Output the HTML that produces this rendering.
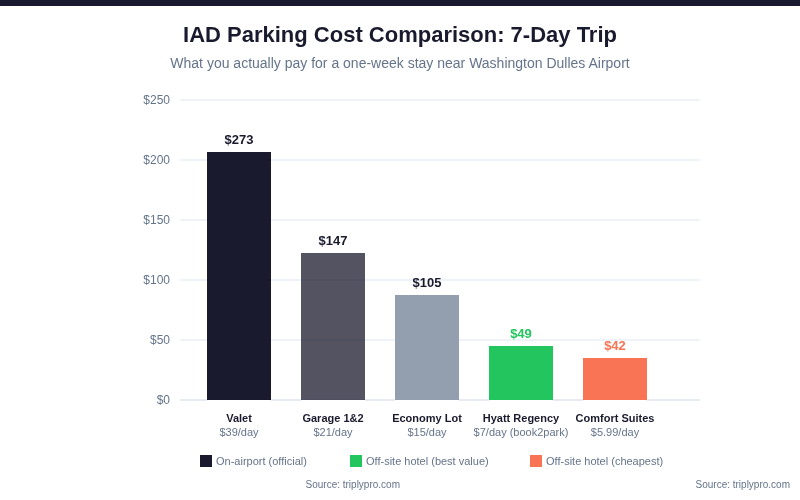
<!DOCTYPE html>
<html><head><meta charset="utf-8"><title>IAD Parking Cost Comparison</title>
<style>
html,body{margin:0;padding:0;background:#fff;}
svg{display:block;font-family:"Liberation Sans",Arial,sans-serif;}
</style></head><body>
<svg width="800" height="500" viewBox="0 0 800 500">
<rect x="0" y="0" width="800" height="500" fill="#ffffff"/>
<rect x="0" y="0" width="800" height="6" fill="#1a1a2e"/>
<text x="400" y="42" text-anchor="middle" font-size="22" font-weight="700" fill="#1a1a2e">IAD Parking Cost Comparison: 7-Day Trip</text>
<text x="400" y="68" text-anchor="middle" font-size="14" fill="#64748b">What you actually pay for a one-week stay near Washington Dulles Airport</text>
<g fill="#eff2f8">
<rect x="180" y="99" width="520" height="2"/>
<rect x="180" y="159" width="520" height="2"/>
<rect x="180" y="219" width="520" height="2"/>
<rect x="180" y="279" width="520" height="2"/>
<rect x="180" y="339" width="520" height="2"/>
</g>
<rect x="180" y="399" width="520" height="2" fill="#e7eaf1"/>
<g fill="#ffffff"><rect x="207" y="400" width="64" height="1"/><rect x="301" y="400" width="64" height="1"/><rect x="395" y="400" width="64" height="1"/><rect x="489" y="400" width="64" height="1"/><rect x="583" y="400" width="64" height="1"/></g>
<g font-size="12" fill="#64748b" text-anchor="end">
<text x="170" y="104">$250</text>
<text x="170" y="164">$200</text>
<text x="170" y="224">$150</text>
<text x="170" y="284">$100</text>
<text x="170" y="344">$50</text>
<text x="170" y="404">$0</text>
</g>
<rect x="207" y="152" width="64" height="248" fill="#1a1a2e"/>
<rect x="301" y="253" width="64" height="147" fill="#1a1a2e" opacity="0.75"/>
<rect x="395" y="295" width="64" height="105" fill="#939eaf"/>
<rect x="489" y="346" width="64" height="54" fill="#22c55e"/>
<rect x="583" y="358" width="64" height="42" fill="#f97355"/>
<g font-size="13" font-weight="700" text-anchor="middle" fill="#1a1a2e">
<text x="239" y="144">$273</text>
<text x="333" y="245">$147</text>
<text x="427" y="287">$105</text>
<text x="521" y="338" fill="#22c55e">$49</text>
<text x="615" y="350" fill="#f97355">$42</text>
</g>
<g font-size="11" font-weight="700" text-anchor="middle" fill="#1a1a2e">
<text x="239" y="422">Valet</text>
<text x="333" y="422">Garage 1&amp;2</text>
<text x="427" y="422">Economy Lot</text>
<text x="521" y="422">Hyatt Regency</text>
<text x="615" y="422">Comfort Suites</text>
</g>
<g font-size="11" text-anchor="middle" fill="#64748b">
<text x="239" y="436">$39/day</text>
<text x="333" y="436">$21/day</text>
<text x="427" y="436">$15/day</text>
<text x="521" y="436">$7/day (book2park)</text>
<text x="615" y="436">$5.99/day</text>
</g>
<rect x="200" y="455" width="12" height="12" fill="#1a1a2e"/>
<rect x="350" y="455" width="12" height="12" fill="#22c55e"/>
<rect x="530" y="455" width="12" height="12" fill="#f97355"/>
<g font-size="11" fill="#64748b">
<text x="216" y="465">On-airport (official)</text>
<text x="366" y="465">Off-site hotel (best value)</text>
<text x="546" y="465">Off-site hotel (cheapest)</text>
</g>
<g font-size="10" fill="#64748b">
<text x="400" y="488" text-anchor="end">Source: triplypro.com</text>
<text x="790" y="488" text-anchor="end">Source: triplypro.com</text>
</g>
</svg>
</body></html>
